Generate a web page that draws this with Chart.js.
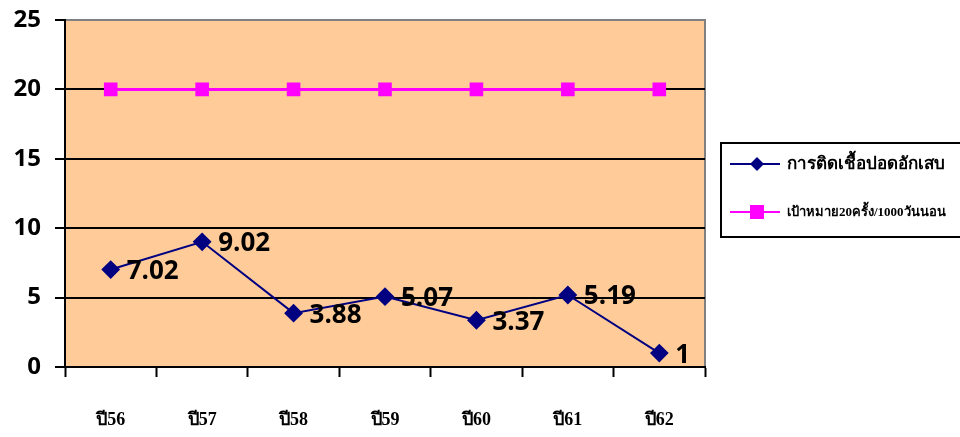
<!DOCTYPE html>
<html>
<head>
<meta charset="utf-8">
<script src="https://cdn.jsdelivr.net/npm/chart.js@4/dist/chart.umd.min.js"></script>
<style>
  html, body { margin: 0; padding: 0; background: #ffffff; }
  #wrap { width: 960px; height: 437px; position: relative; }
</style>
</head>
<body>
<div id="wrap"><canvas id="c" width="960" height="437"></canvas></div>
<script>
// Years (Thai Buddhist era, short form)
const categories = ['ปี56', 'ปี57', 'ปี58', 'ปี59', 'ปี60', 'ปี61', 'ปี62'];
// Pneumonia infection rate per 1000 ventilator days
const infectionRate = [7.02, 9.02, 3.88, 5.07, 3.37, 5.19, 1];
// Target: 20 per 1000 ventilator days
const targetRate = [20, 20, 20, 20, 20, 20, 20];
const seriesNames = ['การติดเชื้อปอดอักเสบ', 'เป้าหมาย20ครั้ง/1000วันนอน'];
const yTicks = [0, 5, 10, 15, 20, 25];

const SANS = '"Open Sans", "DejaVu Sans", sans-serif';
const SERIF = '"Liberation Serif", "Times New Roman", "Noto Sans", serif';

// Peach plot background with grey top/right frame
const plotFrame = {
  id: 'plotFrame',
  beforeDraw(chart) {
    const { ctx, chartArea: a } = chart;
    ctx.save();
    ctx.fillStyle = '#FFCC99';
    ctx.fillRect(a.left, a.top, a.right - a.left, a.bottom - a.top);
    ctx.strokeStyle = '#808080';
    ctx.lineWidth = 2;
    ctx.beginPath();
    ctx.moveTo(a.left, a.top);
    ctx.lineTo(a.right, a.top);
    ctx.lineTo(a.right, a.bottom);
    ctx.stroke();
    ctx.restore();
  }
};

// Value labels to the right of each infection-rate point
const valueLabels = {
  id: 'valueLabels',
  afterDatasetsDraw(chart) {
    const { ctx } = chart;
    const meta = chart.getDatasetMeta(0);
    const data = chart.data.datasets[0].data;
    ctx.save();
    ctx.font = 'bold 26px ' + SANS;
    ctx.fillStyle = '#000000';
    ctx.textAlign = 'left';
    ctx.textBaseline = 'middle';
    meta.data.forEach((pt, i) => {
      ctx.fillText(String(data[i]), pt.x + 16, pt.y + 2);
    });
    ctx.restore();
  }
};

// Boxed legend to the right of the plot
const boxLegend = {
  id: 'boxLegend',
  afterDraw(chart) {
    const { ctx } = chart;
    const ds = chart.data.datasets;
    const box = { x: 721, y: 143, w: 250, h: 94 };
    ctx.save();
    ctx.strokeStyle = '#000000';
    ctx.lineWidth = 2;
    ctx.strokeRect(box.x, box.y, box.w, box.h);

    const rows = [
      { y: 164, font: 'bold 17px ' + SERIF },
      { y: 212, font: 'bold 13px ' + SERIF }
    ];
    ds.forEach((d, i) => {
      const y = rows[i].y;
      ctx.strokeStyle = d.borderColor;
      ctx.lineWidth = 2;
      ctx.beginPath();
      ctx.moveTo(730, y);
      ctx.lineTo(780, y);
      ctx.stroke();
      ctx.fillStyle = d.pointBackgroundColor;
      const cx = 757;
      if (d.pointStyle === 'rectRot') {
        ctx.beginPath();
        ctx.moveTo(cx, y - 7);
        ctx.lineTo(cx + 7, y);
        ctx.lineTo(cx, y + 7);
        ctx.lineTo(cx - 7, y);
        ctx.closePath();
        ctx.fill();
      } else {
        ctx.fillRect(cx - 7, y - 7, 14, 14);
      }
      ctx.fillStyle = '#000000';
      ctx.font = rows[i].font;
      ctx.textAlign = 'left';
      ctx.textBaseline = 'middle';
      ctx.fillText(d.label, 787, y + 1);
    });
    ctx.restore();
  }
};

new Chart(document.getElementById('c'), {
  type: 'line',
  data: {
    labels: categories,
    datasets: [
      {
        label: seriesNames[0],
        data: infectionRate,
        borderColor: '#000080',
        backgroundColor: '#000080',
        pointBackgroundColor: '#000080',
        pointBorderColor: '#000080',
        pointStyle: 'rectRot',
        pointRadius: 8,
        borderWidth: 2,
        tension: 0,
        order: 0
      },
      {
        label: seriesNames[1],
        data: targetRate,
        borderColor: '#FF00FF',
        backgroundColor: '#FF00FF',
        pointBackgroundColor: '#FF00FF',
        pointBorderColor: '#FF00FF',
        pointStyle: 'rect',
        pointRadius: 7.5,
        borderWidth: 3,
        tension: 0,
        order: 1
      }
    ]
  },
  options: {
    responsive: false,
    animation: false,
    layout: { padding: { top: 20, right: 255, left: 0, bottom: 0 } },
    plugins: {
      legend: { display: false },
      tooltip: { enabled: false }
    },
    scales: {
      x: {
        offset: true,
        grid: {
          offset: true,
          drawOnChartArea: false,
          drawTicks: true,
          tickLength: 10,
          tickWidth: 2,
          tickColor: '#000000'
        },
        border: { color: '#000000', width: 2 },
        ticks: {
          color: '#000000',
          padding: 33,
          font: { family: SERIF, size: 18, weight: 'bold' }
        },
        afterFit(scale) {
          scale.height = 70;
          scale.paddingLeft = 0;
          scale.paddingRight = 0;
        }
      },
      y: {
        min: 0,
        max: 25,
        afterBuildTicks(scale) { scale.ticks = yTicks.map(v => ({ value: v })); },
        grid: {
          color: ctx => (ctx.tick && ctx.tick.value === 25) ? 'rgba(0,0,0,0)' : '#000000',
          lineWidth: 2,
          tickLength: 10,
          tickColor: '#000000',
          tickWidth: 2
        },
        border: { color: '#000000', width: 2 },
        ticks: {
          color: '#000000',
          padding: 14,
          font: { family: SANS, size: 24, weight: 'bold' }
        },
        afterFit(scale) {
          scale.width = 65;
          scale.paddingTop = 0;
          scale.paddingBottom = 0;
        }
      }
    }
  },
  plugins: [plotFrame, valueLabels, boxLegend]
});
</script>
</body>
</html>
